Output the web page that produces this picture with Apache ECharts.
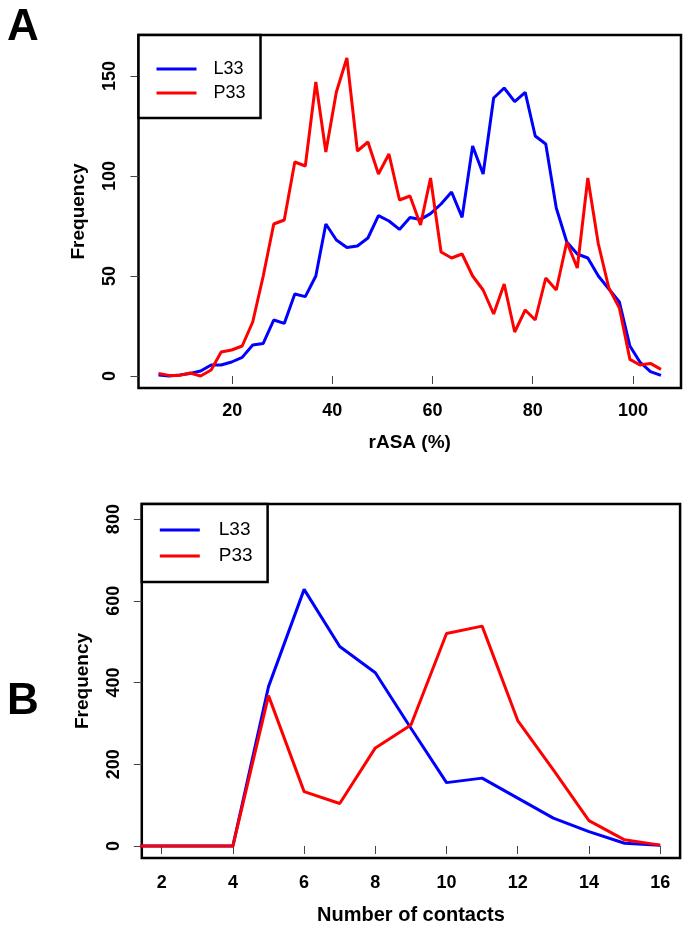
<!DOCTYPE html>
<html>
<head>
<meta charset="utf-8">
<script src="https://cdn.jsdelivr.net/npm/echarts@6/dist/echarts.min.js"></script>
<style>
html,body{margin:0;padding:0;background:#fff;}
#chart{width:690px;height:931px;}
</style>
</head>
<body>
<div id="chart"></div>
<script>
// Panel A: rASA (%) distribution
const rasaX = [5.3, 7.4, 9.5, 11.6, 13.7, 15.8, 17.8, 19.9, 22.0, 24.1,
  26.2, 28.3, 30.4, 32.5, 34.6, 36.7, 38.7, 40.8, 42.9, 45.0,
  47.1, 49.2, 51.3, 53.4, 55.5, 57.6, 59.6, 61.7, 63.8, 65.9,
  68.0, 70.1, 72.2, 74.3, 76.4, 78.5, 80.5, 82.6, 84.7, 86.8,
  88.9, 91.0, 93.1, 95.2, 97.3, 99.4, 101.4, 103.5, 105.6];
const rasaL33 = [0.5, 0, 0.5, 1.3, 2.5, 5.5, 5.5, 7, 9.3, 15.5,
  16.3, 28, 26.3, 41, 39.7, 50, 76, 68, 64.3, 65,
  69, 80.2, 77.5, 73.3, 79.2, 78.3, 81.2, 86, 92, 79.3,
  115, 101, 139, 144, 137.2, 141.8, 120, 116, 84, 67,
  61, 59, 50, 43.5, 37, 15, 7, 2.2, 0.3];
const rasaP33 = [1.3, 0.3, 0.3, 1.5, 0, 3, 12, 13, 15, 27,
  50, 76, 78, 107, 105, 147, 112, 142, 159, 112.5,
  117, 101, 111, 88, 90, 75.5, 99, 62, 59, 61,
  50, 43, 31, 46, 22, 33, 28, 49, 43, 67,
  54, 99, 66, 44, 34, 8.3, 5.5, 6.3, 3.3];
const rasaXTicks = [20, 40, 60, 80, 100];
const rasaYTicks = [0, 50, 100, 150];

// Panel B: number of contacts
const contactsX = [1, 2, 3, 4, 5, 6, 7, 8, 9, 10, 11, 12, 13, 14, 15, 16];
const contactsL33 = [0, 0, 0, 0, 390, 628, 488, 424, 288, 155, 166, 117, 68, 35, 6.6, 2];
const contactsP33 = [0, 0, 0, 0, 368, 133, 104, 240, 296, 520, 538, 307, 186, 62, 15, 2];
const contactsXTicks = [2, 4, 6, 8, 10, 12, 14, 16];
const contactsYTicks = [0, 200, 400, 600, 800];

const seriesNames = ['L33', 'P33'];
const BLUE = '#0000ff', RED = '#ff0000';
const FONT = 'Liberation Sans, Arial, sans-serif';

function pairs(xs, ys) { return xs.map((x, i) => [x, ys[i]]); }

const labelStyle = {fontSize: 18, fontWeight: 'bold', color: '#000', fontFamily: FONT};
const tickStyle = {show: true, length: 8, lineStyle: {color: '#444', width: 1}};

function xAxisCfg(grid, min, max, ticks, name, margin, nameGap, nameSize) {
  return {
    gridIndex: grid, type: 'value', min: min, max: max,
    axisLine: {show: false}, splitLine: {show: false},
    axisTick: Object.assign({customValues: ticks}, tickStyle),
    axisLabel: Object.assign({customValues: ticks, margin: margin}, labelStyle),
    name: name, nameLocation: 'middle', nameGap: nameGap,
    nameTextStyle: {fontSize: nameSize, fontWeight: 'bold', color: '#000', fontFamily: FONT}
  };
}
function yAxisCfg(grid, min, max, ticks) {
  return {
    gridIndex: grid, type: 'value', min: min, max: max,
    axisLine: {show: false}, splitLine: {show: false},
    axisTick: Object.assign({customValues: ticks}, tickStyle),
    axisLabel: Object.assign({customValues: ticks, margin: 19, rotate: 90}, labelStyle),
    name: 'Frequency', nameLocation: 'middle', nameGap: 50, nameRotate: 90,
    nameTextStyle: {fontSize: 19, fontWeight: 'bold', color: '#000', fontFamily: FONT}
  };
}
function lineSeries(name, color, xi, data) {
  return {
    name: name, type: 'line', xAxisIndex: xi, yAxisIndex: xi,
    data: data, showSymbol: false, symbol: 'none', color: color,
    lineStyle: {color: color, width: 3}, clip: true, silent: true
  };
}

const chart = echarts.init(document.getElementById('chart'), null, {renderer: 'canvas'});
const gridA = {left: 138.5, top: 35, width: 542.5, height: 353};
const gridB = {left: 141.8, top: 504, width: 538.3, height: 354};

const option = {
  animation: false,
  backgroundColor: '#fff',
  grid: [
    Object.assign({show: true, borderColor: '#000', borderWidth: 2.5, backgroundColor: 'transparent'}, gridA),
    Object.assign({show: true, borderColor: '#000', borderWidth: 2.5, backgroundColor: 'transparent'}, gridB)
  ],
  xAxis: [
    xAxisCfg(0, 1.3, 109.6, rasaXTicks, 'rASA (%)', 14, 45, 19),
    xAxisCfg(1, 1.441, 16.56, contactsXTicks, 'Number of contacts', 16, 47, 20)
  ],
  yAxis: [
    yAxisCfg(0, -6, 170.5, rasaYTicks),
    yAxisCfg(1, -29.5, 837, contactsYTicks)
  ],
  legend: [
    {
      data: seriesNames, orient: 'vertical', left: gridA.left, top: gridA.top,
      padding: [24, 15, 15, 18], itemGap: 4, itemWidth: 40, itemHeight: 3, icon: 'rect',
      backgroundColor: '#fff', borderColor: '#000', borderWidth: 2.5, borderRadius: 0,
      selectedMode: false,
      textStyle: {fontSize: 18, lineHeight: 20, color: '#000', fontFamily: FONT, padding: [0, 0, 0, 12]}
    },
    {
      data: seriesNames, orient: 'vertical', left: gridB.left, top: gridB.top,
      padding: [16, 15, 16, 18], itemGap: 6, itemWidth: 40, itemHeight: 3, icon: 'rect',
      backgroundColor: '#fff', borderColor: '#000', borderWidth: 2.5, borderRadius: 0,
      selectedMode: false,
      textStyle: {fontSize: 19, lineHeight: 20, color: '#000', fontFamily: FONT, padding: [0, 0, 0, 14]}
    }
  ],
  graphic: [
    {type: 'text', left: 7, top: 6, style: {text: 'A', fontSize: 44, fontWeight: 'bold', fill: '#000', fontFamily: FONT}},
    {type: 'text', left: 7, top: 680, style: {text: 'B', fontSize: 44, fontWeight: 'bold', fill: '#000', fontFamily: FONT}}
  ],
  series: [
    lineSeries('L33', BLUE, 0, pairs(rasaX, rasaL33)),
    lineSeries('P33', RED, 0, pairs(rasaX, rasaP33)),
    lineSeries('L33', BLUE, 1, pairs(contactsX, contactsL33)),
    lineSeries('P33', RED, 1, pairs(contactsX, contactsP33))
  ]
};
chart.setOption(option);
</script>
</body>
</html>
